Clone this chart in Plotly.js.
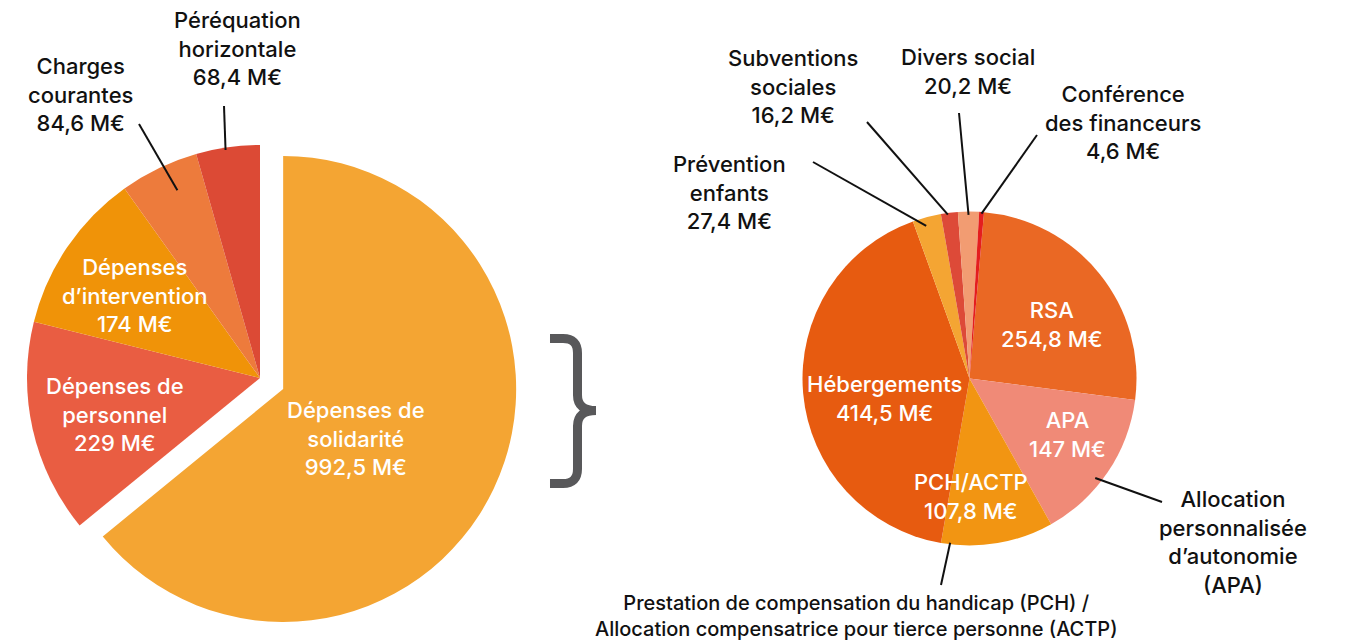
<!DOCTYPE html>
<html><head><meta charset="utf-8">
<script src="https://cdn.plot.ly/plotly-3.0.1.min.js"></script>
<style>html,body{margin:0;padding:0;background:#fff}</style>
</head><body><div id="chart" style="width:1348px;height:642px"></div>
<script>
// ---- data ----
const leftLabels = ["Dépenses de solidarité","Dépenses de personnel","Dépenses d’intervention","Charges courantes","Péréquation horizontale"];
const leftValues = [992.5, 229, 174, 84.6, 68.4];
const leftValueText = ["992,5 M€","229 M€","174 M€","84,6 M€","68,4 M€"];
const leftDisplay = ["Dépenses de<br>solidarité","Dépenses de<br>personnel","Dépenses<br>d’intervention","Charges<br>courantes","Péréquation<br>horizontale"];

const rightLabels = ["RSA","APA","PCH/ACTP","Hébergements","Prévention enfants","Subventions sociales","Divers social","Conférence des financeurs"];
const rightValues = [254.8, 147, 107.8, 414.5, 27.4, 16.2, 20.2, 4.6];
const rightValueText = ["254,8 M€","147 M€","107,8 M€","414,5 M€","27,4 M€","16,2 M€","20,2 M€","4,6 M€"];
const rightDisplay = ["RSA","APA","PCH/ACTP","Hébergements","Prévention<br>enfants","Subventions<br>sociales","Divers social","Conférence<br>des financeurs"];

const apaNote = "Allocation<br>personnalisée<br>d’autonomie<br>(APA)";
const pchNote = "Prestation de compensation du handicap (PCH) /<br>Allocation compensatrice pour tierce personne (ACTP)";

// ---- styles / layout ----
const W = 1348, H = 642;
const leftColors = ["#F4A533","#E95D42","#F09308","#ED7B3C","#DC4A35"];
const rightColors = ["#EA6824","#F08A77","#F29512","#E75B10","#F4A533","#DD4A38","#F29C72","#E41E1E"];
const leftPull = [0.11, 0, 0, 0, 0];
const L = {cx: 260, cy: 378, r: 233, rot: 0};
const R = {cx: 969.5, cy: 378.5, r: 167, rot: 5};

function domainFor(g, pull) {
  const half = g.r * (1 + pull);
  return {x: [(g.cx - half) / W, (g.cx + half) / W], y: [1 - (g.cy + half) / H, 1 - (g.cy - half) / H]};
}
const px = x => x / W, py = y => 1 - y / H;

// label placement (pixel centers), colours, leaders
const leftPos = [[356,438,"#fff"],[115,414,"#fff"],[134,295,"#fff"],[80,94,"#111"],[237,48,"#111"]];
const rightPos = [[1052,324.5,"#fff"],[1067,434.5,"#fff"],[971,496.5,"#fff"],[884,398,"#fff"],[729.5,192,"#111"],[793,87,"#111"],[968,71.5,"#111"],[1122.5,122,"#111"]];
// leader: [slice index, fraction inside slice, radius factor, outer x, outer y]
const leftLeaders = [[3,0.6,0.88,139,124],[4,0.46,0.99,224,106]];
const rightLeaders = [[4,0.4,0.95,813,162],[5,0.4,0.99,867,122],[6,0.5,0.98,959,113],[7,0.5,0.99,1037,135],[1,0.58,0.96,1162,502],[2,0.92,0.99,941,585]];

function tip(values, g, idx, frac, k) {
  const tot = values.reduce((a,b)=>a+b,0);
  let cum = 0; for (let i = 0; i < idx; i++) cum += values[i];
  const ang = (g.rot + (cum + frac * values[idx]) / tot * 360) * Math.PI / 180;
  return [g.cx + k * g.r * Math.sin(ang), g.cy - k * g.r * Math.cos(ang)];
}

const fontBase = {family: "Inter, 'Open Sans', sans-serif", size: 22, weight: 500};
const annotations = [];
function addLabel(text, x, y, color, size) {
  annotations.push({text: text, x: px(x), y: py(y), xref: "paper", yref: "paper", showarrow: false,
    xanchor: "center", yanchor: "middle", align: "center",
    font: Object.assign({}, fontBase, {color: color, size: size || 22})});
}
leftDisplay.forEach((t, i) => addLabel(t + "<br>" + leftValueText[i], leftPos[i][0], leftPos[i][1], leftPos[i][2]));
rightDisplay.forEach((t, i) => addLabel(t + "<br>" + rightValueText[i], rightPos[i][0], rightPos[i][1], rightPos[i][2]));
addLabel(apaNote, 1233, 541.5, "#111");
addLabel(pchNote, 856, 616, "#111", 20);

const shapes = [];
function addLeader(values, g, l) {
  const t = tip(values, g, l[0], l[1], l[2]);
  shapes.push({type: "line", xref: "paper", yref: "paper", x0: px(l[3]), y0: py(l[4]), x1: px(t[0]), y1: py(t[1]),
    line: {color: "#111", width: 2}});
}
leftLeaders.forEach(l => addLeader(leftValues, L, l));
rightLeaders.forEach(l => addLeader(rightValues, R, l));

// brace (pixel path converted to paper)
const braceCmds = [["M",550,338.5],["L",563,338.5],["Q",577.5,338.5,577.5,353],["L",577.5,395],["Q",577.5,410.5,596,410.5],
  ["Q",577.5,410.5,577.5,426],["L",577.5,469],["Q",577.5,483.5,563,483.5],["L",550,483.5]];
const bracePath = braceCmds.map(c => {
  let s = c[0];
  for (let i = 1; i < c.length; i += 2) s += " " + px(c[i]).toFixed(5) + "," + py(c[i+1]).toFixed(5);
  return s;
}).join(" ");
shapes.push({type: "path", xref: "paper", yref: "paper", path: bracePath, line: {color: "#58585A", width: 9}, fillcolor: "rgba(0,0,0,0)"});

const traces = [
  {type: "pie", labels: leftLabels, values: leftValues, sort: false, direction: "clockwise", rotation: L.rot,
   pull: leftPull, marker: {colors: leftColors, line: {width: 0}}, textinfo: "none", hoverinfo: "label+value",
   domain: domainFor(L, Math.max(...leftPull)), showlegend: false},
  {type: "pie", labels: rightLabels, values: rightValues, sort: false, direction: "clockwise", rotation: R.rot,
   marker: {colors: rightColors, line: {width: 0}}, textinfo: "none", hoverinfo: "label+value",
   domain: domainFor(R, 0), showlegend: false}
];

Plotly.newPlot("chart", traces, {
  width: W, height: H, margin: {l: 0, r: 0, t: 0, b: 0}, paper_bgcolor: "#fff", showlegend: false,
  annotations: annotations, shapes: shapes
}, {displayModeBar: false, staticPlot: true});
</script></body></html>
